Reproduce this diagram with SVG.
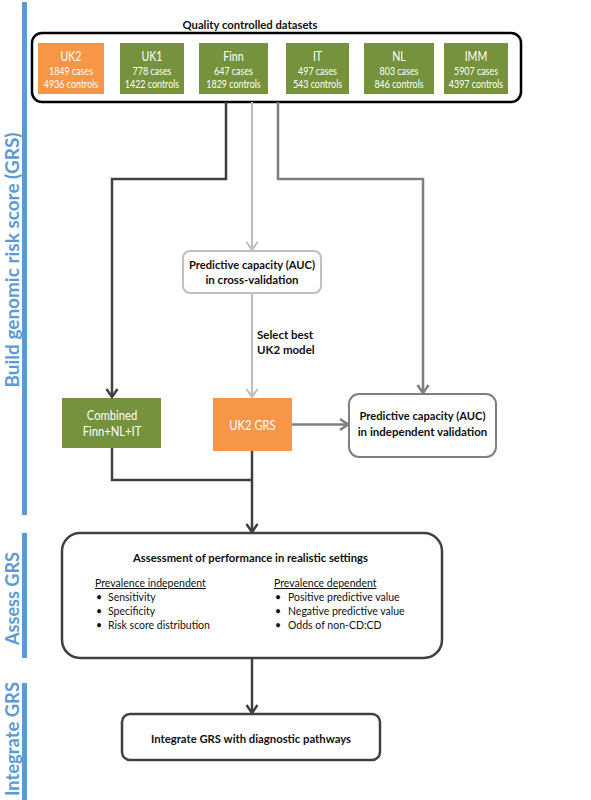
<svg xmlns="http://www.w3.org/2000/svg" width="591" height="800" viewBox="0 0 591 800">
<style>
.bg{fill:#ffffff}
.bar{fill:#5b9bd5}
.side{font-family:Lato,"Liberation Sans",sans-serif;font-weight:bold;font-size:18px;fill:#5b9bd5;text-anchor:middle}
.green{fill:#76923c}
.orange{fill:#f79646}
.nm{font-family:Lato,"Liberation Sans",sans-serif;font-size:12.5px;fill:#ffffff;text-anchor:middle}
.sm{font-family:Lato,"Liberation Sans",sans-serif;font-size:10.5px;fill:#ffffff;text-anchor:middle}
.b{font-family:Lato,"Liberation Sans",sans-serif;font-weight:bold;font-size:11.5px;fill:#111111;text-anchor:middle}
.bl{font-family:Lato,"Liberation Sans",sans-serif;font-weight:bold;font-size:11.5px;fill:#111111}
.r{font-family:Lato,"Liberation Sans",sans-serif;font-size:10.5px;fill:#111111}
.dk{fill:none;stroke:#404040;stroke-width:2.5}
.md{fill:none;stroke:#7f7f7f;stroke-width:2.5}
.lt{fill:none;stroke:#bfbfbf;stroke-width:2.2}
</style>
<defs>
<marker id="ad" viewBox="-10 -7 12 14" refX="0" refY="0" markerWidth="12" markerHeight="14" markerUnits="userSpaceOnUse" orient="auto"><path d="M-8,-5.5 L0,0 L-8,5.5" fill="none" stroke="#404040" stroke-width="2.5"/></marker>
<marker id="am" viewBox="-10 -7 12 14" refX="0" refY="0" markerWidth="12" markerHeight="14" markerUnits="userSpaceOnUse" orient="auto"><path d="M-8,-5.5 L0,0 L-8,5.5" fill="none" stroke="#7f7f7f" stroke-width="2.5"/></marker>
<marker id="al" viewBox="-10 -7 12 14" refX="0" refY="0" markerWidth="12" markerHeight="14" markerUnits="userSpaceOnUse" orient="auto"><path d="M-8,-5.5 L0,0 L-8,5.5" fill="none" stroke="#bfbfbf" stroke-width="2.2"/></marker>
</defs>
<rect class="bg" x="0" y="0" width="591" height="800"/>

<g id="stages">
<rect class="bar" x="22" y="2" width="5" height="513"/>
<rect class="bar" x="22" y="533" width="5" height="125"/>
<rect class="bar" x="22" y="683" width="5" height="117"/>
<text class="side" transform="translate(18.5,260) rotate(-90)" textLength="255" lengthAdjust="spacingAndGlyphs">Build genomic risk score (GRS)</text>
<text class="side" transform="translate(18.5,598.5) rotate(-90)" textLength="93" lengthAdjust="spacingAndGlyphs">Assess GRS</text>
<text class="side" transform="translate(18.5,739) rotate(-90)" textLength="114" lengthAdjust="spacingAndGlyphs">Integrate GRS</text>
</g>

<g id="datasets">
<rect x="32" y="33" width="489" height="69" rx="10" fill="none" stroke="#000000" stroke-width="2.5"/>
<text class="b" x="250" y="29" textLength="135" lengthAdjust="spacingAndGlyphs">Quality controlled datasets</text>
</g>
<g id="uk2">
<rect class="orange" x="38" y="43" width="66" height="51"/>
<g transform="translate(71,0) scale(0.85,1)">
<text class="nm" x="0" y="61">UK2</text>
<text class="sm" x="0" y="75">1849 cases</text>
<text class="sm" x="0" y="88">4936 controls</text>
</g>
</g>
<g id="uk1">
<rect class="green" x="120" y="43" width="64" height="51"/>
<g transform="translate(152,0) scale(0.85,1)">
<text class="nm" x="0" y="61">UK1</text>
<text class="sm" x="0" y="75">778 cases</text>
<text class="sm" x="0" y="88">1422 controls</text>
</g>
</g>
<g id="finn">
<rect class="green" x="199" y="43" width="69" height="51"/>
<g transform="translate(233.5,0) scale(0.85,1)">
<text class="nm" x="0" y="61">Finn</text>
<text class="sm" x="0" y="75">647 cases</text>
<text class="sm" x="0" y="88">1829 controls</text>
</g>
</g>
<g id="it">
<rect class="green" x="286" y="43" width="63" height="51"/>
<g transform="translate(317.5,0) scale(0.85,1)">
<text class="nm" x="0" y="61">IT</text>
<text class="sm" x="0" y="75">497 cases</text>
<text class="sm" x="0" y="88">543 controls</text>
</g>
</g>
<g id="nl">
<rect class="green" x="364" y="43" width="70" height="51"/>
<g transform="translate(399,0) scale(0.85,1)">
<text class="nm" x="0" y="61">NL</text>
<text class="sm" x="0" y="75">803 cases</text>
<text class="sm" x="0" y="88">846 controls</text>
</g>
</g>
<g id="imm">
<rect class="green" x="444" y="43" width="64" height="51"/>
<g transform="translate(476,0) scale(0.85,1)">
<text class="nm" x="0" y="61">IMM</text>
<text class="sm" x="0" y="75">5907 cases</text>
<text class="sm" x="0" y="88">4397 controls</text>
</g>
</g>

<g id="crossval">
<rect x="183" y="251" width="138" height="42" rx="7" fill="#ffffff" stroke="#bfbfbf" stroke-width="2"/>
<text class="b" x="252" y="269" textLength="126" lengthAdjust="spacingAndGlyphs">Predictive capacity (AUC)</text>
<text class="b" x="252" y="284">in cross-validation</text>
</g>

<g id="combined">
<rect class="green" x="62" y="398" width="99" height="50"/>
<g transform="translate(112,0) scale(0.9,1)">
<text class="nm" x="0" y="420" style="font-size:12.5px">Combined</text>
<text class="nm" x="0" y="436" style="font-size:12.5px">Finn+NL+IT</text>
</g>
</g>

<g id="uk2grs">
<rect class="orange" x="213" y="398" width="79" height="53"/>
<g transform="translate(252.5,0) scale(0.9,1)">
<text class="nm" x="0" y="430" style="font-size:12.5px">UK2 GRS</text>
</g>
</g>

<g id="indep">
<rect x="349" y="394" width="147" height="63" rx="10" fill="#ffffff" stroke="#7f7f7f" stroke-width="2"/>
<text class="b" x="422.5" y="420" textLength="126" lengthAdjust="spacingAndGlyphs">Predictive capacity (AUC)</text>
<text class="b" x="422.5" y="436">in independent validation</text>
</g>

<g id="assess">
<rect x="62" y="533" width="380" height="125" rx="18" fill="#ffffff" stroke="#404040" stroke-width="2.5"/>
<text class="b" x="250.5" y="562" textLength="235" lengthAdjust="spacingAndGlyphs">Assessment of performance in realistic settings</text>
<text class="r" x="95" y="587" text-decoration="underline">Prevalence independent</text>
<text class="r" x="96" y="601">•</text><text class="r" x="108" y="601">Sensitivity</text>
<text class="r" x="96" y="615">•</text><text class="r" x="108" y="615">Specificity</text>
<text class="r" x="96" y="629">•</text><text class="r" x="108" y="629">Risk score distribution</text>
<text class="r" x="274" y="587" text-decoration="underline">Prevalence dependent</text>
<text class="r" x="275" y="601">•</text><text class="r" x="288" y="601">Positive predictive value</text>
<text class="r" x="275" y="615">•</text><text class="r" x="288" y="615">Negative predictive value</text>
<text class="r" x="275" y="629">•</text><text class="r" x="288" y="629">Odds of non-CD:CD</text>
</g>

<g id="integrate">
<rect x="122" y="714" width="258" height="46" rx="8" fill="#ffffff" stroke="#404040" stroke-width="2.5"/>
<text class="b" x="251" y="743" textLength="200" lengthAdjust="spacingAndGlyphs">Integrate GRS with diagnostic pathways</text>
</g>

<g id="connectors">
<polyline class="dk" points="226,102 226,179 112,179 112,397" marker-end="url(#ad)"/>
<polyline class="lt" points="252,102 252,250" marker-end="url(#al)"/>
<polyline class="md" points="278,102 278,179 423,179 423,393" marker-end="url(#am)"/>
<polyline class="lt" points="252,293 252,397" marker-end="url(#al)"/>
<text class="bl" x="257" y="339">Select best</text>
<text class="bl" x="257" y="354">UK2 model</text>
<polyline class="md" points="292,424.5 348,424.5" marker-end="url(#am)"/>
<polyline class="dk" points="112,448 112,480 252,480"/>
<polyline class="dk" points="252,451 252,532" marker-end="url(#ad)"/>
<polyline class="dk" points="252,658 252,713" marker-end="url(#ad)"/>
</g>
</svg>
